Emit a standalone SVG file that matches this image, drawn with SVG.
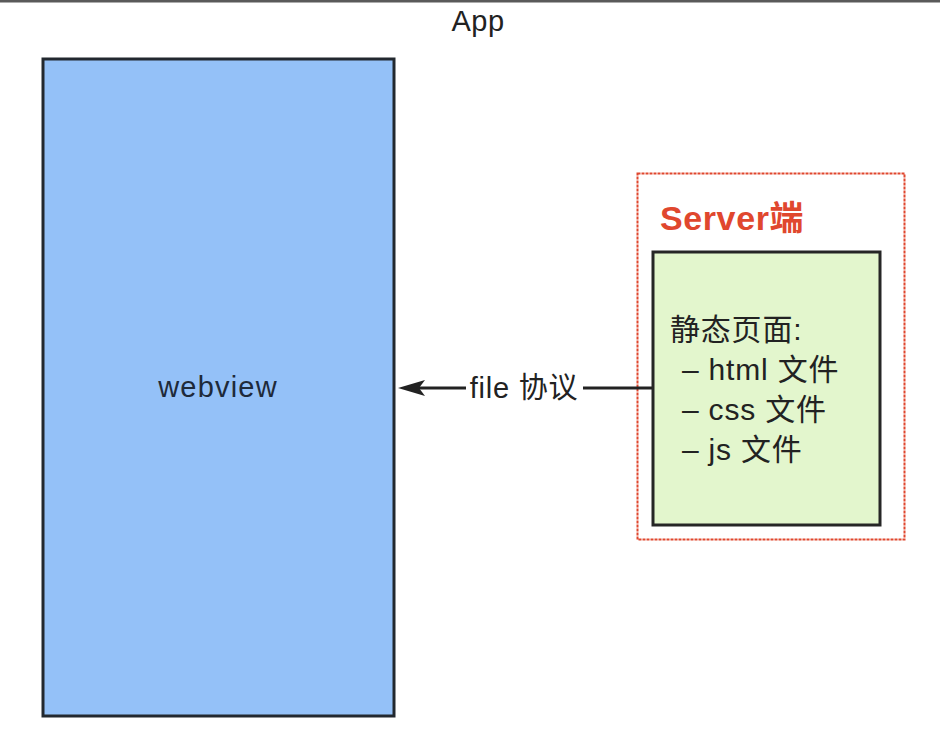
<svg xmlns="http://www.w3.org/2000/svg" width="940" height="756" viewBox="0 0 940 756">
<defs>
<style>
.t{font-family:"Liberation Sans","Noto Sans CJK SC",sans-serif;fill:#222;}
</style>
</defs>
<rect width="940" height="756" fill="#fff"/>
<rect x="0" y="0" width="940" height="2.5" fill="#5a5a5a"/>
<text class="t" x="478" y="31" font-size="29" letter-spacing="0.5" text-anchor="middle">App</text>
<g id="webview">
<rect x="43" y="59" width="351" height="657" fill="#94c1f8" stroke="#22282f" stroke-width="3"/>
<text class="t" x="218" y="397" font-size="29" letter-spacing="1.2" text-anchor="middle" style="fill:#1e2a3a">webview</text>
</g>
<g id="server">
<rect x="637.5" y="173.5" width="267" height="366" fill="none" stroke="#e0472e" stroke-width="2" stroke-dasharray="3 1"/>
<text x="660" y="230" font-size="34" font-weight="bold" letter-spacing="0.6" font-family="Liberation Sans,Noto Sans CJK SC,sans-serif" fill="#e0472e">Server端</text>
</g>
<g id="static">
<rect x="653" y="252" width="227" height="273" fill="#e3f6cd" stroke="#262626" stroke-width="3"/>
<text class="t" font-size="30" letter-spacing="0.8"><tspan x="670" y="340">静态页面:</tspan><tspan x="682" y="380">– html 文件</tspan><tspan x="682" y="420">– css 文件</tspan><tspan x="682" y="460">– js 文件</tspan></text>
</g>
<g id="connectors">
<line x1="652" y1="388" x2="583" y2="388" stroke="#222" stroke-width="3"/>
<line x1="466" y1="388" x2="418" y2="388" stroke="#222" stroke-width="3"/>
<path d="M398,388 L425,380 L419,388 L425,396 Z" fill="#222"/>
<text class="t" x="524" y="398" font-size="29" letter-spacing="0.8" text-anchor="middle">file 协议</text>
</g>
</svg>
